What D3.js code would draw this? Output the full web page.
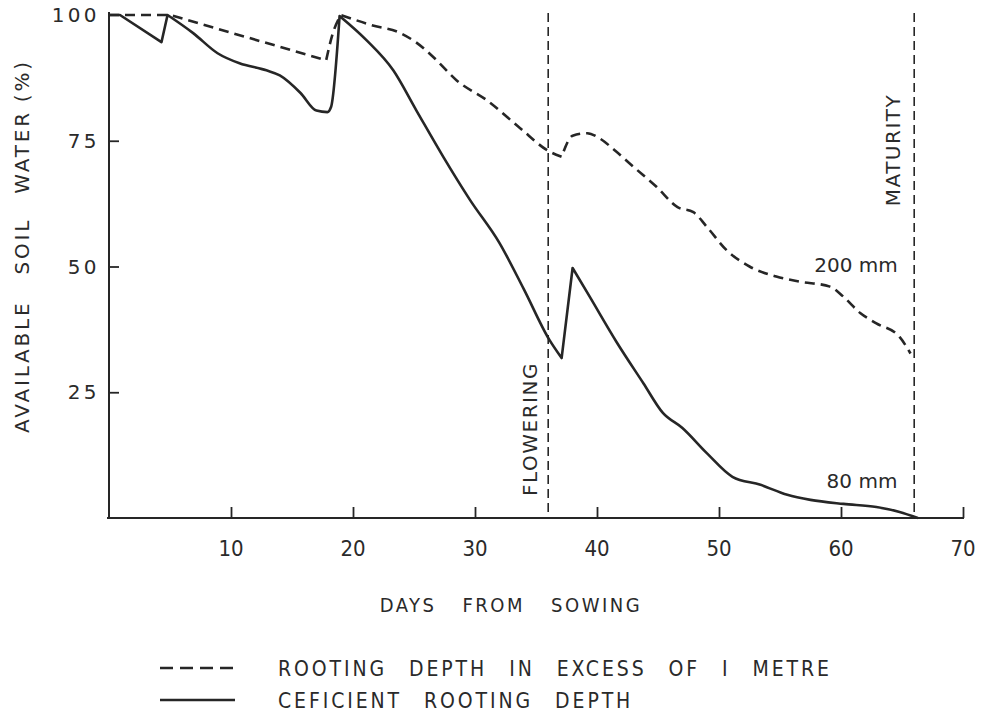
<!DOCTYPE html>
<html><head><meta charset="utf-8">
<script src="https://cdn.jsdelivr.net/npm/d3@7"></script>
<style>
body{margin:0;background:#fff;}
svg{display:block;}
.t{fill:#2a2a2a;font-family:"DejaVu Sans",sans-serif;}
.n{fill:#2a2a2a;font-family:"Liberation Sans Narrow","DejaVu Sans Condensed",sans-serif;}
</style></head>
<body>
<script>
// ---- data ----
const days200 = [0, 5, 17.8, 18.3, 19, 21.5, 23.8, 25.2, 26.6, 28.5, 31, 33.7, 36, 37.1, 38, 39.2, 40.2, 41.5, 43, 44.9, 46.6, 47.9, 49, 50.6, 52.5, 54.7, 56.6, 59.1, 60.2, 61.6, 62.9, 64.8, 65.7];
const water200 = [100, 100, 91, 96, 100, 98, 96.5, 94.5, 91.6, 87, 83, 77.5, 73, 71.8, 76, 76.5, 75.5, 73, 69.8, 65.8, 61.8, 60.8, 57.9, 53.3, 50, 48, 47, 46, 44, 40.7, 38.7, 36, 32.7];
const corners200 = [5, 17.8, 19, 37.1];
const days80 = [0, 0.9, 4.3, 4.8, 6.9, 8.9, 10.7, 12.9, 14, 15.7, 17, 17.9, 18.2, 18.9, 21.1, 23.3, 25.2, 27.4, 29.6, 32, 34, 36.1, 37.1, 38, 39.4, 41.6, 43.8, 45.4, 47, 49, 51.1, 53.4, 55.6, 57.5, 60.2, 62.9, 64.8, 66.3];
const water80 = [100, 100, 94.6, 100, 96.4, 92.4, 90.4, 89, 88, 84.5, 81, 80.7, 81.7, 99.8, 95, 89, 81, 71.8, 63.2, 54.7, 45.5, 35.4, 31.8, 49.7, 44, 35, 26.8, 20.9, 17.9, 12.9, 8.2, 6.6, 4.6, 3.6, 2.8, 2.2, 1.2, 0];
const corners80 = [0.9, 4.3, 4.8, 18.9, 37.1, 38];
const xTicks = [10, 20, 30, 40, 50, 60, 70];
const yTicks = [25, 50, 75, 100];
const events = [36, 66];
const eventLabels = ["FLOWERING", "MATURITY"];
const seriesLabels = ["200 mm", "80 mm"];
const yTitleWords = ["AVAILABLE", "SOIL", "WATER", "(%)"];
const xTitleWords = ["DAYS", "FROM", "SOWING"];
const legendWords = [["ROOTING", "DEPTH", "IN", "EXCESS", "OF", "I", "METRE"], ["CEFICIENT", "ROOTING", "DEPTH"]];

const W = 990, H = 720;
const svg = d3.select("body").append("svg").attr("width", W).attr("height", H);
const x = d3.scaleLinear().domain([0, 70]).range([109, 963]);
const y = d3.scaleLinear().domain([0, 100]).range([518, 15]);
const ink = "#262626";

// axes
const gx = svg.append("g").attr("transform", `translate(0,${y(0)})`)
  .call(d3.axisTop(x).tickValues(xTicks).tickSize(11).tickFormat(""));
const gy = svg.append("g").attr("transform", `translate(${x(0)},0)`)
  .call(d3.axisRight(y).tickValues(yTicks.filter(v => v < 100)).tickSize(10).tickFormat(""));
[gx, gy].forEach(g => {
  g.select(".domain").remove();
  g.selectAll("line").attr("stroke", ink).attr("stroke-width", 1.8);
});
svg.append("line").attr("x1", x(0) - 2).attr("x2", x(70) + 1).attr("y1", y(0)).attr("y2", y(0))
  .attr("stroke", ink).attr("stroke-width", 2);
svg.append("line").attr("x1", x(0)).attr("x2", x(0)).attr("y1", 12).attr("y2", y(0))
  .attr("stroke", ink).attr("stroke-width", 2);

// tick labels
svg.selectAll(".xl").data(xTicks).enter().append("text").attr("class", "n")
  .attr("x", d => x(d)).attr("y", 556).attr("text-anchor", "middle")
  .attr("font-size", 22).text(d => d);
svg.selectAll(".yl").data(yTicks).enter().append("text").attr("class", "t")
  .attr("x", 100).attr("y", d => y(d) + 7).attr("text-anchor", "end")
  .attr("font-size", 20).attr("letter-spacing", 3.4).text(d => d);

// word-spaced text helper
function spaced(sel, words, gaps) {
  sel.selectAll("tspan").data(words).enter().append("tspan")
    .attr("dx", (d, i) => i ? gaps[i - 1] : 0).text(d => d);
}
// axis titles
const yt = svg.append("text").attr("class", "t").attr("font-size", 20)
  .attr("transform", `translate(29,246) rotate(-90)`).attr("text-anchor", "middle")
  .attr("letter-spacing", 2.8);
spaced(yt, yTitleWords, [26, 26, 8]);
const xt = svg.append("text").attr("class", "n").attr("font-size", 20)
  .attr("x", 511).attr("y", 612).attr("text-anchor", "middle").attr("letter-spacing", 2.5);
spaced(xt, xTitleWords, [26, 26]);

// event lines
svg.selectAll(".ev").data(events).enter().append("line")
  .attr("x1", d => x(d)).attr("x2", d => x(d)).attr("y1", 13).attr("y2", y(0))
  .attr("stroke", ink).attr("stroke-width", 1.6).attr("stroke-dasharray", "9,5");
const evPos = [[530, 429], [893, 150]];
svg.selectAll(".evl").data(eventLabels).enter().append("text").attr("class", "t")
  .attr("font-size", 20).attr("text-anchor", "middle").attr("letter-spacing", 1.5)
  .attr("transform", (d, i) => `translate(${evPos[i][0] + 7},${evPos[i][1]}) rotate(-90)`)
  .text(d => d);

// series: smooth pieces joined at sharp corners
const line = d3.line().x(d => x(d[0])).y(d => y(d[1])).curve(d3.curveMonotoneX);
function piecewise(days, vals, corners) {
  const pts = days.map((d, i) => [d, vals[i]]);
  const segs = [];
  let cur = [];
  pts.forEach(p => {
    cur.push(p);
    if (corners.includes(p[0])) { segs.push(cur); cur = [p]; }
  });
  if (cur.length > 1) segs.push(cur);
  return segs.map((s, i) => { const d = line(s); return i ? d.replace(/^M/, "L") : d; }).join("");
}
svg.append("path").attr("d", piecewise(days200, water200, corners200)).attr("fill", "none").attr("stroke", ink)
  .attr("stroke-width", 2.6).attr("stroke-dasharray", "10,6");
svg.append("path").attr("d", piecewise(days80, water80, corners80)).attr("fill", "none").attr("stroke", ink)
  .attr("stroke-width", 2.6).attr("stroke-linejoin", "round");

// series labels
const sPos = [[856, 272], [862, 488]];
svg.selectAll(".sl").data(seriesLabels).enter().append("text").attr("class", "t")
  .attr("font-size", 20).attr("text-anchor", "middle")
  .attr("x", (d, i) => sPos[i][0]).attr("y", (d, i) => sPos[i][1]).text(d => d);

// legend
const lg = svg.append("g");
[0, 1].forEach(i => {
  const yy = 668 + i * 32;
  lg.append("line").attr("x1", 160).attr("x2", 235).attr("y1", yy).attr("y2", yy)
    .attr("stroke", ink).attr("stroke-width", 2.6)
    .attr("stroke-dasharray", i === 0 ? "13,7" : null);
  const t = lg.append("text").attr("class", "n").attr("font-size", 21).attr("letter-spacing", 2.9)
    .attr("x", 278).attr("y", yy + 8);
  spaced(t, legendWords[i], legendWords[i].map(() => 22));
});
</script>
</body></html>
